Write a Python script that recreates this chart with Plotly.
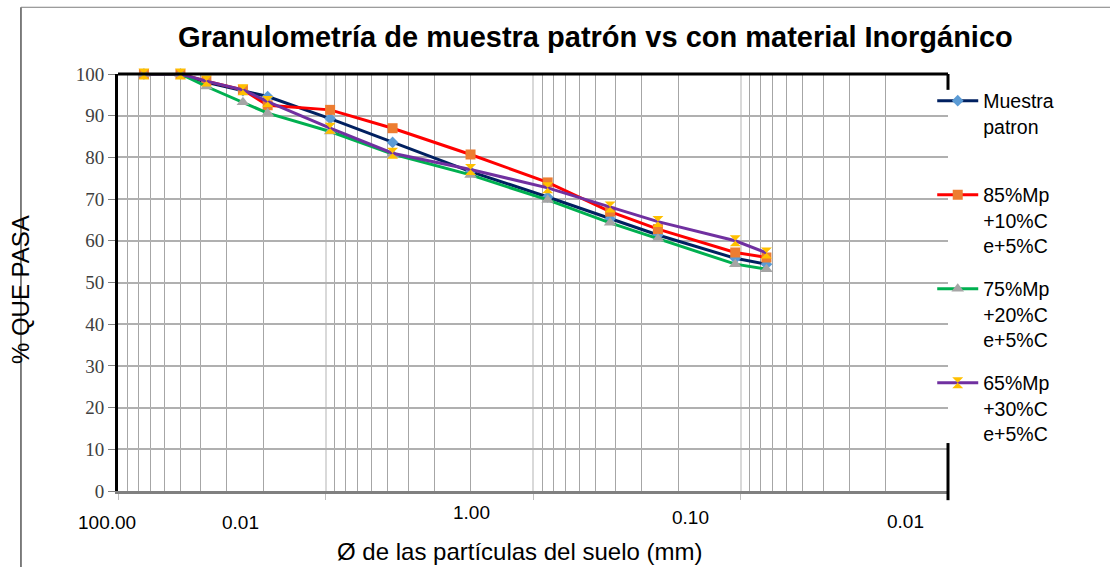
import math
import plotly.graph_objects as go

# Sieve openings (mm) and percent passing for each mix
sieve_mm = [75, 50, 37.5, 25, 19, 9.5, 4.75, 2.0, 0.85, 0.425, 0.25, 0.106, 0.075]

muestra_patron = [100, 100, 98.0, 96.0, 94.6, 89.3, 83.6, 76.6, 70.5, 65.3, 61.4, 55.8, 54.4]
mezcla_85 = [100, 100, 98.3, 96.2, 92.5, 91.4, 87.0, 80.7, 74.0, 67.0, 62.8, 57.2, 56.0]
mezcla_75 = [100, 100, 97.0, 93.2, 90.6, 86.2, 80.8, 75.8, 69.8, 64.3, 60.5, 54.4, 53.2]
mezcla_65 = [100, 100, 98.3, 96.2, 93.4, 87.0, 81.0, 77.1, 72.7, 68.1, 64.6, 60.0, 57.1]

series_names = [
    "Muestra<br>patron<br> ",
    "85%Mp<br>+10%C<br>e+5%C",
    "75%Mp<br>+20%C<br>e+5%C",
    "65%Mp<br>+30%C<br>e+5%C",
]

# Bottom axis labels as they appear under the chart, with their positions (mm)
x_tick_text = ["100.00", "0.01", "1.00", "0.10", "0.01"]
x_tick_pos_mm = [113, 25.8, 1.97, 0.175, 0.0161]
x_tick_drop = [31, 31, 21, 26, 30]

decades = [100, 10, 1, 0.1, 0.01]
minor_vals = [m * d for d in [10, 1, 0.1, 0.01] for m in range(2, 10)]
x_log_range = [2, -2]

styles = [
    dict(line="#002060", marker="#5B9BD5", symbol="diamond", size=9),
    dict(line="#FF0000", marker="#ED7D31", symbol="square", size=10),
    dict(line="#00B050", marker="#A5A5A5", symbol="triangle-up", size=11),
    dict(line="#7030A0", marker="#FFC000", symbol="hourglass", size=11),
]

fig = go.Figure()
for i, (name, vals) in enumerate(zip(series_names, [muestra_patron, mezcla_85, mezcla_75, mezcla_65])):
    st = styles[i]
    fig.add_trace(go.Scatter(
        x=sieve_mm, y=vals, name=name, mode="lines+markers",
        legendgroup=f"g{i}",
        line=dict(color=st["line"], width=3),
        marker=dict(color=st["marker"], symbol=st["symbol"], size=st["size"],
                    line=dict(width=0)),
        cliponaxis=False,
    ))

annotations = [
    dict(text="<b>Granulometría de muestra patrón vs con material Inorgánico</b>",
         x=0.575, y=1.089, xref="paper", yref="paper", showarrow=False,
         xanchor="center", yanchor="middle",
         font=dict(family="Liberation Sans, Arial", size=29, color="#000000")),
    dict(text="Ø de las partículas del suelo (mm)",
         x=0.484, y=0, xref="paper", yref="paper", showarrow=False,
         xanchor="center", yanchor="middle", yshift=-60,
         font=dict(family="Liberation Sans, Arial", size=24, color="#000000")),
    dict(text="% QUE PASA", textangle=-90,
         x=-0.118, y=0.482, xref="paper", yref="paper", showarrow=False,
         xanchor="center", yanchor="middle",
         font=dict(family="Liberation Sans, Arial", size=24, color="#000000")),
]


def log_to_paper(v):
    lo, hi = x_log_range
    return (math.log10(v) - lo) / (hi - lo)


for txt, pos, drop in zip(x_tick_text, x_tick_pos_mm, x_tick_drop):
    annotations.append(dict(
        text=txt, x=log_to_paper(pos), y=0, xref="paper", yref="paper",
        xanchor="center", yanchor="middle", yshift=-drop, showarrow=False,
        font=dict(family="Liberation Sans, Arial", size=19, color="#000000")))

# Frame pieces around the plot area and the outer border
shapes = [
    dict(type="line", xref="x domain", yref="y domain", x0=0, x1=1, y0=1, y1=1,
         line=dict(color="#000000", width=3)),
    dict(type="line", xref="x domain", yref="y domain", x0=1, x1=1, y0=1, y1=0.962,
         line=dict(color="#000000", width=3)),
    dict(type="line", xref="x domain", yref="y domain", x0=1, x1=1, y0=0.115, y1=-0.022,
         line=dict(color="#000000", width=3)),
    dict(type="line", xref="paper", yref="paper", x0=-0.1169, x1=-0.1169, y0=1.16, y1=-0.2,
         line=dict(color="#000000", width=1)),
    dict(type="line", xref="paper", yref="paper", x0=-0.1169, x1=1.2, y0=1.16, y1=1.16,
         line=dict(color="#7F7F7F", width=1)),
]

fig.update_layout(
    width=1110, height=567,
    margin=dict(l=118, r=162, t=74, b=76),
    paper_bgcolor="#FFFFFF", plot_bgcolor="#FFFFFF",
    font=dict(family="Liberation Sans, Arial", color="#000000"),
    showlegend=True,
    legend=dict(x=0.981, y=0.982, xanchor="left", yanchor="top",
                valign="top", tracegroupgap=15, itemwidth=41,
                font=dict(family="Liberation Sans, Arial", size=19.5, color="#000000"),
                bgcolor="rgba(0,0,0,0)"),
    annotations=annotations,
    shapes=shapes,
)

fig.update_xaxes(
    type="log", range=x_log_range,
    tickvals=decades, showticklabels=False,
    ticks="outside", ticklen=6, tickcolor="#BFBFBF", tickwidth=1,
    showgrid=True, gridcolor="#D9D9D9", gridwidth=2,
    minor=dict(tickvals=minor_vals, showgrid=True, gridcolor="#A6A6A6", gridwidth=1, ticks=""),
    showline=True, linecolor="#808080", linewidth=3,
)
fig.update_yaxes(
    range=[0, 100], dtick=10, tick0=0,
    ticks="outside", ticklen=7, tickcolor="#808080", tickwidth=1,
    showgrid=True, gridcolor="#B0B0B0", gridwidth=1.5,
    zeroline=False,
    showline=True, linecolor="#000000", linewidth=3,
    tickfont=dict(family="Liberation Serif, Times New Roman", size=19, color="#404040"),
)

fig.write_html("out.html")
